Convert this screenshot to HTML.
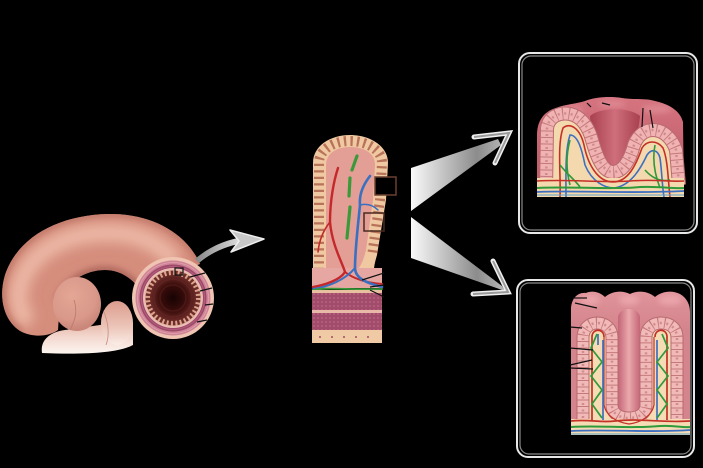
<!DOCTYPE html>
<html><head><meta charset="utf-8"><style>
html,body{margin:0;padding:0;background:#000;}
svg{display:block;}
</style></head><body>
<svg width="703" height="468" viewBox="0 0 703 468" xmlns="http://www.w3.org/2000/svg">
<defs>
<filter id="b6" x="-30%" y="-30%" width="160%" height="160%"><feGaussianBlur stdDeviation="6"/></filter>
<filter id="b3" x="-30%" y="-30%" width="160%" height="160%"><feGaussianBlur stdDeviation="3"/></filter>
<filter id="b1" x="-30%" y="-30%" width="160%" height="160%"><feGaussianBlur stdDeviation="1.2"/></filter>
<clipPath id="tubeClip"><path d="M200,264 C186,232 150,213 108,214 C60,215 18,236 5,275 C-2,298 4,322 22,332 C35,338 50,336 58,330 L60,300 C66,282 85,270 105,270 C120,270 132,278 140,290 Z"/></clipPath>
<clipPath id="topClip"><path d="M537,197 L537,135 C537,120 545,111 556,108 C566,104 576,104 585,101 C595,97 610,96 622,98 C635,100 645,98 655,101 C668,104 680,110 683,122 L684,197 Z"/></clipPath>
<clipPath id="botClip"><path d="M571,435 L571,310 C571,298 578,292 586,293 C592,290 600,292 605,297 C612,291 622,290 630,294 C638,290 648,291 655,297 C662,291 672,290 680,294 C687,298 690,305 690,312 L690,435 Z"/></clipPath>
<radialGradient id="bumpG" cx="72" cy="296" r="34" gradientUnits="userSpaceOnUse">
<stop offset="0" stop-color="#e4a695"/><stop offset="0.7" stop-color="#d9988a"/><stop offset="1" stop-color="#c98679"/>
</radialGradient>
<linearGradient id="paleG" x1="0" y1="318" x2="0" y2="354" gradientUnits="userSpaceOnUse">
<stop offset="0" stop-color="#e2a898"/><stop offset="0.5" stop-color="#f2d6cc"/><stop offset="1" stop-color="#fdf6f2"/>
</linearGradient>
<linearGradient id="lobeG" x1="0" y1="302" x2="0" y2="346" gradientUnits="userSpaceOnUse">
<stop offset="0" stop-color="#dc9e8e"/><stop offset="0.6" stop-color="#edc8bc"/><stop offset="1" stop-color="#fbefea"/>
</linearGradient>
<radialGradient id="lum" cx="173" cy="298" r="24" gradientUnits="userSpaceOnUse">
<stop offset="0" stop-color="#160303"/><stop offset="0.55" stop-color="#3a0d0b"/><stop offset="1" stop-color="#6e2d2a"/>
</radialGradient>
<linearGradient id="w1" x1="411" y1="0" x2="505" y2="0" gradientUnits="userSpaceOnUse">
<stop offset="0" stop-color="#fafafa"/><stop offset="0.7" stop-color="#8c8c8c"/><stop offset="1" stop-color="#b8b8b8"/>
</linearGradient>
<linearGradient id="ar1" x1="197" y1="0" x2="265" y2="0" gradientUnits="userSpaceOnUse">
<stop offset="0" stop-color="#8a8a8a"/><stop offset="0.6" stop-color="#d8d8d8"/><stop offset="1" stop-color="#b0b0b0"/>
</linearGradient>
<pattern id="mp" width="4" height="4" patternUnits="userSpaceOnUse"><rect width="4" height="4" fill="#a24c6c"/><circle cx="2" cy="2" r="0.9" fill="#bd6686"/></pattern>
<linearGradient id="topBlock" x1="0" y1="96" x2="0" y2="160" gradientUnits="userSpaceOnUse">
<stop offset="0" stop-color="#d67580"/><stop offset="1" stop-color="#c2606d"/>
</linearGradient>
<linearGradient id="cryptG" x1="590" y1="0" x2="640" y2="0" gradientUnits="userSpaceOnUse">
<stop offset="0" stop-color="#a8404f"/><stop offset="0.5" stop-color="#cf6f7c"/><stop offset="1" stop-color="#a8404f"/>
</linearGradient>
<linearGradient id="tongueG" x1="618" y1="0" x2="640" y2="0" gradientUnits="userSpaceOnUse">
<stop offset="0" stop-color="#c46676"/><stop offset="0.5" stop-color="#eaa8ac"/><stop offset="1" stop-color="#c46676"/>
</linearGradient>
<linearGradient id="botBlock" x1="0" y1="290" x2="0" y2="330" gradientUnits="userSpaceOnUse">
<stop offset="0" stop-color="#e0949b"/><stop offset="1" stop-color="#d4848c"/>
</linearGradient>
</defs>
<rect width="703" height="468" fill="#000"/>

<!-- ===== Intestine tube ===== -->
<path d="M200,264 C186,232 150,213 108,214 C60,215 18,236 5,275 C-2,298 4,322 22,332 C35,338 50,336 58,330 L60,300 C66,282 85,270 105,270 C120,270 132,278 140,290 Z" fill="#d58d7c"/>
<g clip-path="url(#tubeClip)">
<path d="M175,262 C155,238 130,232 103,233 C65,234 30,252 20,285 C16,300 20,315 30,322" fill="none" stroke="#ecb7a5" stroke-width="18" filter="url(#b6)"/>
<path d="M58,300 C66,282 85,270 105,270 C120,270 132,278 140,290" fill="none" stroke="#b06a5e" stroke-width="8" filter="url(#b3)"/>
<path d="M200,264 C186,232 150,213 108,214 C60,215 18,236 5,275 C-2,298 4,322 22,332" fill="none" stroke="#c07868" stroke-width="6" filter="url(#b3)"/>
</g>
<!-- pale lower part -->
<path d="M42,353 C40,340 50,332 65,330 L100,325 C115,320 125,318 133,322 L133,345 C120,352 90,355 42,353 Z" fill="url(#paleG)"/>
<!-- lower right lobe -->
<ellipse cx="117" cy="323" rx="16" ry="22" fill="url(#lobeG)"/>
<path d="M104,312 C108,322 110,335 106,345" fill="none" stroke="#c88a80" stroke-width="0.8"/>
<!-- bump -->
<ellipse cx="77" cy="304" rx="24" ry="27" fill="url(#bumpG)"/>
<path d="M70,330 C75,320 78,312 74,300" fill="none" stroke="#b87a70" stroke-width="0.8"/>

<!-- cross-section ring -->
<circle cx="173" cy="298" r="41" fill="#f0c4b2"/>
<circle cx="173" cy="298" r="37.5" fill="#cf8496"/>
<circle cx="173" cy="298" r="35.5" fill="none" stroke="#e0a0b0" stroke-width="0.8"/>
<circle cx="173" cy="298" r="33.5" fill="#9d4a6a"/>
<circle cx="173" cy="298" r="31.5" fill="none" stroke="#b86080" stroke-width="0.8"/>
<circle cx="173" cy="298" r="30" fill="#ebbdb2"/>
<circle cx="173" cy="298" r="27.5" fill="url(#lum)"/>
<circle cx="173" cy="298" r="25.5" fill="none" stroke="#dca48c" stroke-width="5" stroke-dasharray="2 2.45"/>
<circle cx="173" cy="298" r="19" fill="none" stroke="#5e2220" stroke-width="2"/>
<circle cx="173" cy="298" r="13" fill="none" stroke="#4a1816" stroke-width="1.6"/>
<rect x="175" y="268" width="8" height="7" fill="none" stroke="#111" stroke-width="1.2"/>
<g stroke="#111" stroke-width="1.3">
<line x1="190" y1="277" x2="205" y2="273"/>
<line x1="200" y1="291" x2="212" y2="288"/>
<line x1="205" y1="305" x2="213" y2="304"/>
<line x1="197" y1="322" x2="207" y2="320"/>
</g>

<!-- small arrow -->
<path d="M195,259 C210,246 228,239 244,237 L245,243 C230,245 213,251 199,263 Z" fill="url(#ar1)"/>
<path d="M230,230 L264,239 L231,252 L239,241 Z" fill="#c8c8c8" stroke="#eeeeee" stroke-width="1.5" stroke-linejoin="round"/>

<!-- ===== middle villus ===== -->
<path d="M313,272 L313,163 C313,146 330,135 350,135 C370,135 388,146 388,163 L386,200 L377,255 C375,262 374,266 374,270 L313,272 Z" fill="#f0c9a2"/>
<path d="M319,270 L319,163 C319,150 333,141 350,141 C367,141 382,150 382,163 L380,200 L372,256" fill="none" stroke="#b8735a" stroke-width="10" stroke-dasharray="2.3 4.2"/>
<path d="M326,268 L326,165 C326,153 337,147 350,147 C364,147 375,153 375,165 L373,200 L366,250 C363,262 360,268 356,270 Z" fill="#e39e96"/>
<rect x="312" y="268" width="70" height="20" fill="#e6a7a2"/>
<!-- vessels -->
<g fill="none" stroke-linecap="round">
<path d="M338,168 C334,180 330,200 330,222 C332,245 342,262 345,272 C340,280 325,285 313,287" stroke="#c4282a" stroke-width="2.4"/>
<path d="M330,222 C322,232 319,242 318,252" stroke="#c4282a" stroke-width="1.6"/>
<path d="M345,272 C355,280 370,283 382,284" stroke="#c4282a" stroke-width="2"/>
<path d="M370,176 C363,185 359,195 360,205 C358,225 355,250 355,268 C355,278 366,283 382,287" stroke="#3a70c0" stroke-width="2.6"/>
<path d="M355,268 C345,280 328,287 313,289" stroke="#3a70c0" stroke-width="2"/>
<path d="M360,205 C368,203 374,206 378,210" stroke="#3a70c0" stroke-width="1.5"/>
<path d="M357,156 L352,170 M350,178 L349,196 M350,207 L347,238" stroke="#3a9a3a" stroke-width="3.2"/>
<path d="M313,290 C330,287 345,290 382,289" stroke="#3a9a3a" stroke-width="1.8"/>
</g>
<rect x="375" y="177" width="21" height="18" fill="#000" stroke="#6a4030" stroke-width="1.5"/>
<rect x="364" y="213" width="20" height="18" fill="none" stroke="#4a2a20" stroke-width="1.5"/>
<!-- base layers -->
<rect x="312" y="290" width="70" height="3" fill="#e8c0a0"/>
<rect x="312" y="293" width="70" height="17" fill="url(#mp)"/>
<rect x="312" y="310" width="70" height="3" fill="#e8b8a8"/>
<rect x="312" y="313" width="70" height="17" fill="url(#mp)"/>
<rect x="312" y="330" width="70" height="13" fill="#f0caa5"/>
<g fill="#a05060"><circle cx="320" cy="337" r="1"/><circle cx="332" cy="337" r="1"/><circle cx="344" cy="337" r="1"/><circle cx="356" cy="337" r="1"/><circle cx="368" cy="337" r="1"/></g>
<g stroke="#111" stroke-width="1.2">
<line x1="362" y1="280" x2="384" y2="273"/>
<line x1="370" y1="287" x2="384" y2="285"/>
<line x1="370" y1="290" x2="384" y2="297"/>
</g>

<!-- ===== big arrows ===== -->
<polygon points="411,168 498,139 501,145 411,211" fill="url(#w1)"/>
<polygon points="411,217 502,286 505,291 411,258" fill="url(#w1)"/>
<polyline points="474,137 509,133 495,163" fill="none" stroke="#f0f0f0" stroke-width="5" stroke-linejoin="miter" stroke-linecap="round"/>
<polyline points="474,137 509,133 495,163" fill="none" stroke="#9a9a9a" stroke-width="2" stroke-linejoin="miter"/>
<polyline points="493,261 508,292 473,294" fill="none" stroke="#f0f0f0" stroke-width="5" stroke-linejoin="miter" stroke-linecap="round"/>
<polyline points="493,261 508,292 473,294" fill="none" stroke="#9a9a9a" stroke-width="2" stroke-linejoin="miter"/>

<!-- ===== boxes ===== -->
<rect x="519" y="53" width="178" height="180" rx="11" fill="none" stroke="#e8e8e8" stroke-width="2"/>
<rect x="522" y="56" width="172" height="174" rx="9" fill="none" stroke="#8a8a8a" stroke-width="1.2"/>
<rect x="517" y="280" width="177" height="177" rx="11" fill="none" stroke="#e8e8e8" stroke-width="2"/>
<rect x="520" y="283" width="171" height="171" rx="9" fill="none" stroke="#8a8a8a" stroke-width="1.2"/>

<!-- ===== top box tissue ===== -->
<path d="M537,197 L537,135 C537,120 545,111 556,108 C566,104 576,104 585,101 C595,97 610,96 622,98 C635,100 645,98 655,101 C668,104 680,110 683,122 L684,197 Z" fill="url(#topBlock)"/>
<g clip-path="url(#topClip)">
<g filter="url(#b3)" fill="#e3939b" opacity="0.7">
<ellipse cx="570" cy="110" rx="14" ry="4"/><ellipse cx="612" cy="104" rx="14" ry="3.5"/><ellipse cx="657" cy="109" rx="15" ry="4"/>
</g>
</g>
<path d="M590,116 C600,107 630,107 640,116 C638,140 628,166 614,170 C600,166 592,140 590,116 Z" fill="url(#cryptG)"/>
<path d="M548,197 L548,125 C550,115 560,112 570,114 C580,116 588,125 592,140 C597,158 603,172 613,172 C623,172 630,160 634,145 C638,135 645,130 653,130 C663,130 672,138 676,150 L678,197 Z" fill="#f4d8ae"/>
<g fill="none">
<path d="M546,190 L547,128 C549,116 560,112 570,114 C580,116 588,125 592,140 C597,158 603,172 613,172 C623,172 630,160 634,145 C638,135 645,130 653,130 C663,130 672,138 676,150 L679,185" stroke="#b86a70" stroke-width="14"/>
<path d="M546,190 L547,128 C549,116 560,112 570,114 C580,116 588,125 592,140 C597,158 603,172 613,172 C623,172 630,160 634,145 C638,135 645,130 653,130 C663,130 672,138 676,150 L679,185" stroke="#f0b2b2" stroke-width="12"/>
<path d="M546,190 L547,128 C549,116 560,112 570,114 C580,116 588,125 592,140 C597,158 603,172 613,172 C623,172 630,160 634,145 C638,135 645,130 653,130 C663,130 672,138 676,150 L679,185" stroke="#c47a7a" stroke-width="12" stroke-dasharray="1 5.5"/>
<path d="M546,190 L547,128 C549,116 560,112 570,114 C580,116 588,125 592,140 C597,158 603,172 613,172 C623,172 630,160 634,145 C638,135 645,130 653,130 C663,130 672,138 676,150 L679,185" stroke="#cf8c8c" stroke-width="2.5" stroke-dasharray="2 4.5" stroke-dashoffset="-2"/>
</g>
<rect x="537" y="178" width="147" height="19" fill="#f4d8ae"/>
<g fill="none" stroke-width="1.6">
<path d="M560,197 C561,175 557,145 563,128 C570,122 580,128 584,145 C588,165 598,182 613,182 C628,182 636,165 642,148 C647,140 657,140 663,148 C668,160 668,180 670,197" stroke="#c43028"/>
<path d="M566,197 C566,175 565,150 570,135 C578,135 582,150 585,165 C592,182 605,188 614,188 C630,186 640,170 647,155 C652,148 658,150 660,158 C662,172 662,185 664,197" stroke="#3d6fc0"/>
<path d="M570,140 C566,155 566,170 570,185 M560,165 C568,175 575,180 580,187 M655,145 C652,160 655,175 660,188 M645,170 C652,178 660,182 670,180" stroke="#2f9a3a"/>
<path d="M537,181 C570,179 600,183 630,181 C655,179 670,182 684,181" stroke="#c43028"/>
<path d="M537,188 C570,186 610,190 640,187 C660,186 672,189 684,188" stroke="#2f9a3a" stroke-width="2"/>
<path d="M537,192 C580,190 620,194 684,191" stroke="#3d6fc0" stroke-width="1.8"/>
<path d="M537,195 L684,195" stroke="#5aa0c8" stroke-width="1"/>
</g>
<g stroke="#111" stroke-width="1.2">
<line x1="587" y1="103" x2="591" y2="107"/>
<line x1="602" y1="103" x2="610" y2="105"/>
<line x1="643" y1="108" x2="642" y2="127"/>
<line x1="650" y1="110" x2="653" y2="128"/>
</g>

<!-- ===== bottom box tissue ===== -->
<path d="M571,435 L571,310 C571,298 578,292 586,293 C592,290 600,292 605,297 C612,291 622,290 630,294 C638,290 648,291 655,297 C662,291 672,290 680,294 C687,298 690,305 690,312 L690,435 Z" fill="url(#botBlock)"/>
<g clip-path="url(#botClip)">
<g filter="url(#b3)" fill="#eeaab0" opacity="0.8">
<ellipse cx="590" cy="300" rx="10" ry="5"/><ellipse cx="629" cy="300" rx="10" ry="5"/><ellipse cx="670" cy="300" rx="12" ry="5"/>
</g>
</g>
<path d="M618,318 C618,306 640,306 640,318 L640,405 C640,418 618,418 618,405 Z" fill="url(#tongueG)"/>
<path d="M583,418 L583,338 C583,328 590,323 597,323 C605,323 612,328 612,338 L612,405 C612,414 620,418 629,418 C638,418 646,414 646,405 L646,338 C646,328 653,323 661,323 C670,323 677,328 677,338 L677,418 L677,435 L583,435 Z" fill="#f5dcb5"/>
<g fill="none">
<path d="M583,420 L583,338 C583,328 590,323 597,323 C605,323 612,328 612,338 L612,405 C612,414 620,418 629,418 C638,418 646,414 646,405 L646,338 C646,328 653,323 661,323 C670,323 677,328 677,338 L677,420" stroke="#b86a70" stroke-width="13"/>
<path d="M583,420 L583,338 C583,328 590,323 597,323 C605,323 612,328 612,338 L612,405 C612,414 620,418 629,418 C638,418 646,414 646,405 L646,338 C646,328 653,323 661,323 C670,323 677,328 677,338 L677,420" stroke="#f2b9b9" stroke-width="11"/>
<path d="M583,420 L583,338 C583,328 590,323 597,323 C605,323 612,328 612,338 L612,405 C612,414 620,418 629,418 C638,418 646,414 646,405 L646,338 C646,328 653,323 661,323 C670,323 677,328 677,338 L677,420" stroke="#c47a7a" stroke-width="11" stroke-dasharray="1 5.5"/>
<path d="M583,420 L583,338 C583,328 590,323 597,323 C605,323 612,328 612,338 L612,405 C612,414 620,418 629,418 C638,418 646,414 646,405 L646,338 C646,328 653,323 661,323 C670,323 677,328 677,338 L677,420" stroke="#d08c8c" stroke-width="2.5" stroke-dasharray="2 4.5" stroke-dashoffset="-2"/>
</g>
<rect x="571" y="419" width="119" height="16" fill="#f5dcb5"/>
<g fill="none" stroke-width="1.7">
<path d="M592,420 L592,337 C592,328 604,328 604,337" stroke="#c43028"/>
<path d="M604,337 L604,405 C606,415 615,422 629,424 C643,422 652,415 654,405 L654,337" stroke="#c43028" stroke-width="1.2"/>
<path d="M603,420 L603,340 M598,334 L598,345" stroke="#3d6fc0"/>
<path d="M597,334 L591,348 L602,362 L591,376 L602,390 L592,404 L602,418" stroke="#2f9a3a"/>
<path d="M667,420 L667,337 C667,328 655,328 655,337" stroke="#c43028"/>
<path d="M657,420 L657,340" stroke="#3d6fc0"/>
<path d="M662,334 L668,348 L657,362 L668,376 L657,390 L667,404 L657,418" stroke="#2f9a3a"/>
<path d="M571,421 C590,419 600,423 615,421 C640,418 660,423 690,421" stroke="#c43028"/>
<path d="M571,427 C600,425 630,429 660,426 C675,425 682,428 690,427" stroke="#2f9a3a" stroke-width="2"/>
<path d="M571,431 C610,429 650,433 690,430" stroke="#3d6fc0" stroke-width="1.8"/>
<path d="M571,434 L690,434" stroke="#5aa0c8" stroke-width="1"/>
</g>
<g stroke="#111" stroke-width="1.2">
<line x1="573" y1="298" x2="587" y2="298"/>
<line x1="575" y1="303" x2="597" y2="308"/>
<line x1="570" y1="327" x2="582" y2="328"/>
<line x1="570" y1="348" x2="593" y2="350"/>
<line x1="570" y1="365" x2="592" y2="360"/>
<line x1="570" y1="368" x2="593" y2="369"/>
</g>
</svg>
</body></html>
